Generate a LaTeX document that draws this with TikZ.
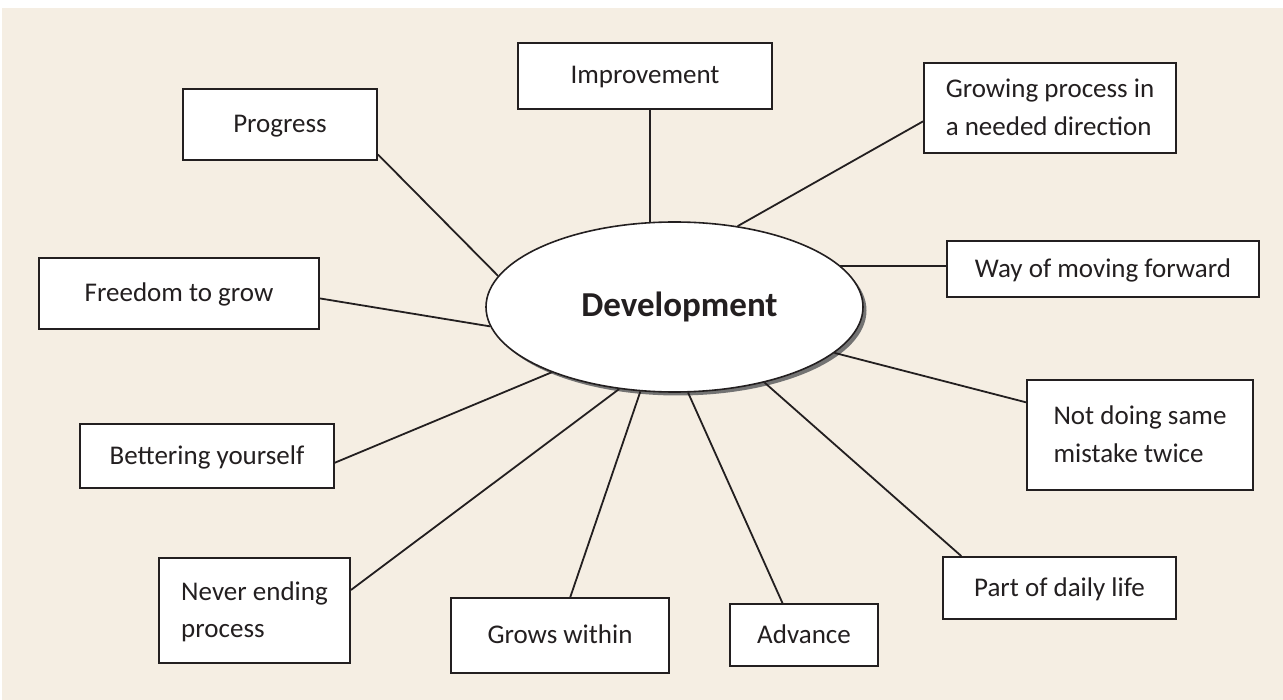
\documentclass[tikz,border=0pt]{standalone}
\usepackage{fontspec}
\setmainfont{Carlito}
\usepackage{tikz}
\usetikzlibrary{shapes.geometric, calc, shadows}
\definecolor{MapBeige}{RGB}{245, 238, 227}
\definecolor{MapInk}{RGB}{35, 31, 32}
\definecolor{MapShadow}{RGB}{115, 115, 115}

\begin{document}
\begin{tikzpicture}[
    x=1pt, y=-1pt,
    font=\fontsize{27}{37.5}\selectfont,
    every node/.style={align=left, text=MapInk},
    ideabox/.style={rectangle, draw=MapInk, fill=white, line width=1.8pt, inner sep=0pt, text depth=0.4ex},
    corenode/.style={ellipse, draw=MapInk, fill=white, line width=1.6pt, inner sep=0pt, minimum width=377pt, minimum height=170pt,
      drop shadow={shadow xshift=3.5pt, shadow yshift=-3.5pt, fill=MapShadow, opacity=1}},
    link/.style={draw=MapInk, line width=1.8pt}
  ]
    \useasboundingbox (0,0) rectangle (1283,700);
    \fill[MapBeige] (2,8) rectangle (1283,700);

    % Centre
    \node[corenode, font=\fontsize{35}{40}\selectfont\bfseries] (dev) at (674.5,307) {\hspace*{10pt}Development};

    % Top row
    \node[ideabox, minimum width=254pt, minimum height=66pt] (improve) at (645,76) {Improvement};
    \node[ideabox, minimum width=194pt, minimum height=71pt] (progress) at (280,124.5) {Progress};
    \node[ideabox, minimum width=252pt, minimum height=90pt] (growing) at (1050,108) {Growing process in\\a needed direction};

    % Sides
    \node[ideabox, minimum width=312pt, minimum height=56pt] (moving) at (1103,269) {Way of moving forward};
    \node[ideabox, minimum width=280pt, minimum height=71pt] (freedom) at (179,293.5) {Freedom to grow};
    \node[ideabox, minimum width=226pt, minimum height=110pt] (mistake) at (1140,435) {Not doing same\\mistake twice};
    \node[ideabox, minimum width=254pt, minimum height=64pt] (bettering) at (207,456) {Bettering yourself};

    % Bottom row
    \node[ideabox, minimum width=191pt, minimum height=105pt] (neverend) at (254.5,610.5) {Never ending\\process};
    \node[ideabox, minimum width=218pt, minimum height=75pt] (within) at (560,635.5) {Grows within};
    \node[ideabox, minimum width=148pt, minimum height=62pt] (advance) at (804,635) {Advance};
    \node[ideabox, minimum width=233pt, minimum height=62pt] (daily) at (1059.5,588) {Part of daily life};

    % Connections
    \draw[link] (improve.south -| dev.106) -- (dev.106);
    \draw[link] (progress.-17) -- (dev.170);
    \draw[link] (growing.186) -- (dev.52);
    \draw[link] (moving.west |- dev.14) -- (dev.14);
    \draw[link] (freedom.-2) -- (dev.186);
    \draw[link] (mistake.164) -- (dev.344);
    \draw[link] (bettering.-3) -- (dev.208);
    \draw[link] (neverend.12) -- (dev.236);
    \draw[link] (within.75) -- (dev.248);
    \draw[link] (advance.124) -- (dev.279);
    \draw[link] (daily.162) -- (dev.320);
\end{tikzpicture}
\end{document}
